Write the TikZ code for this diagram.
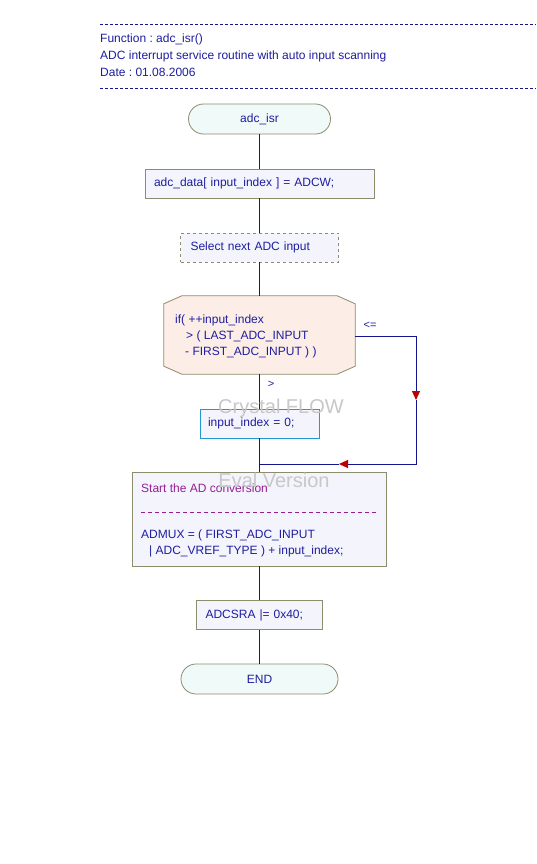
\documentclass[tikz,border=0pt]{standalone}
\usepackage{fontspec}
\setmainfont{Liberation Sans}
\usetikzlibrary{arrows.meta,calc}
\frenchspacing
\definecolor{flowline}{RGB}{20,20,140}
\definecolor{txtblue}{RGB}{30,30,160}
\definecolor{boxborder}{RGB}{140,140,110}
\definecolor{termfill}{RGB}{240,250,248}
\definecolor{boxfill}{RGB}{244,244,252}
\definecolor{decfill}{RGB}{252,238,230}
\definecolor{idxborder}{RGB}{40,150,210}
\definecolor{cmtpurple}{RGB}{150,30,150}
\definecolor{arrred}{RGB}{190,0,0}
\definecolor{wmgray}{RGB}{200,200,200}
\tikzset{
  every node/.style={font=\fontsize{12}{16}\selectfont, text=txtblue, inner sep=0pt},
  term/.style={draw=boxborder, line width=0.8pt, fill=termfill, rounded corners=15pt, minimum height=30pt},
  procbox/.style={draw=boxborder, line width=0.8pt, fill=boxfill, minimum height=29pt, align=left, inner xsep=9pt},
  cmtbox/.style={draw=boxborder, dashed, line width=0.8pt, fill=boxfill, minimum height=29pt, align=left, inner xsep=10pt},
  idxbox/.style={draw=idxborder, line width=0.8pt, fill=boxfill, minimum height=29pt, align=left, inner xsep=8pt},
  flow/.style={draw=flowline, line width=1pt},
  redtip/.style={-{Triangle[width=8pt,length=9pt,color=arrred,fill=arrred]}},
  hdrline/.style={draw=flowline, line width=0.6pt, dash pattern=on 3pt off 2pt},
  wmark/.style={font=\fontsize{20}{22}\selectfont, text=wmgray},
  lbl/.style={font=\fontsize{11}{13}\selectfont, text=txtblue},
}
\begin{document}
\begin{tikzpicture}[x=1pt,y=-1pt]
\useasboundingbox[fill=white] (0,0) rectangle (536,864);
% header
\coordinate (h1a) at (100,24); \coordinate (h1b) at (536,24);
\coordinate (h2a) at (100,88); \coordinate (h2b) at (536,88);
\draw[hdrline] (h1a) -- (h1b);
\draw[hdrline] (h2a) -- (h2b);
\node[anchor=west] (hf) at (100,39.5) {Function : adc\_isr()};
\node[anchor=west] (hd) at (100,56) {ADC interrupt service routine with auto input scanning};
\node[anchor=west] (hdt) at (100,72.5) {Date : 01.08.2006};
% nodes
\node[term, minimum width=142pt] (start) at (259.5,119) {adc\_isr};
\node[procbox, text width=211pt] (adc) at (259.5,183.5) {adc\_data[ input\_index ] = ADCW;};
\node[cmtbox, text width=138pt] (sel) at (259.5,247.5) {Select next ADC input};
\node[minimum width=191pt, minimum height=78pt] (dec) at (259.5,335) {};
\fill[decfill] ([yshift=-8pt]dec.north west) -- ([xshift=18pt]dec.north west) -- ([xshift=-18pt]dec.north east) -- ([yshift=-8pt]dec.north east) -- ([yshift=8pt]dec.south east) -- ([xshift=-18pt]dec.south east) -- ([xshift=18pt]dec.south west) -- ([yshift=8pt]dec.south west) -- cycle;
\draw[boxborder, line width=0.8pt] ([yshift=-8pt]dec.north west) -- ([xshift=18pt]dec.north west) -- ([xshift=-18pt]dec.north east) -- ([yshift=-8pt]dec.north east) -- ([yshift=8pt]dec.south east) -- ([xshift=-18pt]dec.south east) -- ([xshift=18pt]dec.south west) -- ([yshift=8pt]dec.south west) -- cycle;
\node[anchor=west, align=left] (dectxt) at (175,336) {if( ++input\_index\\\hspace{11pt}> ( LAST\_ADC\_INPUT\\\hspace{10pt}- FIRST\_ADC\_INPUT ) )};
\node[idxbox, text width=103pt] (idx) at (259.5,423.5) {input\_index = 0;};
\node[draw=boxborder, line width=0.8pt, fill=boxfill, minimum width=254pt, minimum height=94pt] (big) at (259.5,519) {};
\node[anchor=west, text=cmtpurple] (bigc) at (141,488) {Start the AD conversion};
\coordinate (dl1) at (141,512); \coordinate (dl2) at (378,512);
\draw[cmtpurple, line width=0.7pt, dash pattern=on 4pt off 3pt] (dl1) -- (dl2);
\node[anchor=west, align=left] (bigt) at (141,543) {ADMUX = ( FIRST\_ADC\_INPUT\\\hspace{8pt}| ADC\_VREF\_TYPE ) + input\_index;};
\node[procbox, text width=108pt] (adcsra) at (259.5,615) {ADCSRA |= 0x40;};
\node[term, minimum width=157pt] (end) at (259.5,679) {END};
% connectors
\draw[flow] (start) -- (adc);
\draw[flow] (adc) -- (sel);
\draw[flow] (sel) -- (dec);
\draw[flow] (dec.south) -- (idx.north);
\draw[flow] (idx.south) -- (big.north);
\draw[flow] (big.south) -- (adcsra.north);
\draw[flow] (adcsra) -- (end);
% loop
\coordinate (r0) at (355,336);
\coordinate (a1) at (416,400);
\coordinate (c1) at (416,464);
\coordinate (a2) at (339,464);
\coordinate (m1) at (259.5,464);
\draw[flow, redtip] (r0) -| (a1);
\draw[flow, redtip] (a1) -- (c1) -- (a2);
\draw[flow] (a2) -- (m1);
\node[lbl] (le) at (370,325) {<=};
\node[lbl] (gt) at (271,384) {>};
% watermarks
\node[wmark] (wm1) at (281,408) {Crystal FLOW};
\node[wmark] (wm2) at (274,480) {Eval Version};
\end{tikzpicture}
\end{document}
